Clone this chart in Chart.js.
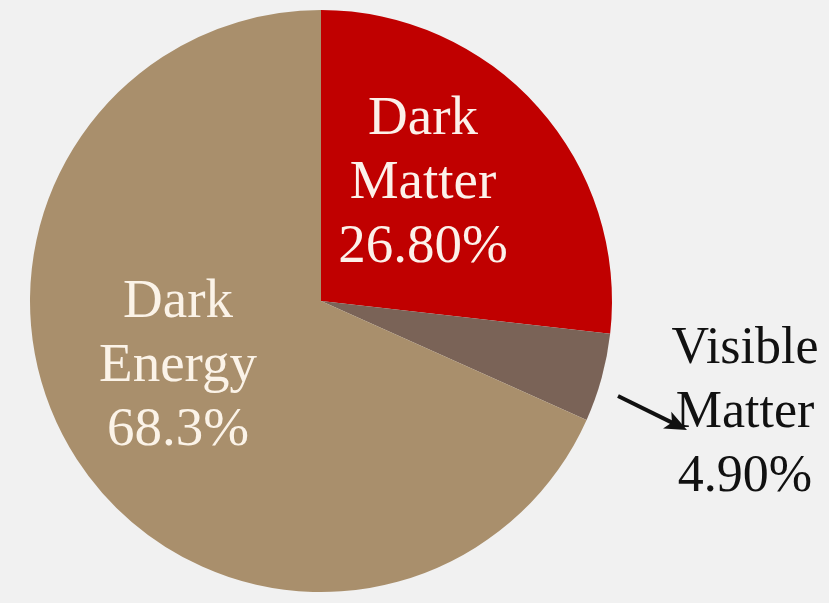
<!DOCTYPE html>
<html>
<head>
<meta charset="utf-8">
<script src="https://cdn.jsdelivr.net/npm/chart.js@4.4.1/dist/chart.umd.min.js"></script>
<style>
  html, body { margin: 0; padding: 0; background: #f1f1f1; }
  #wrap { width: 829px; height: 603px; position: relative; }
</style>
</head>
<body>
<div id="wrap"><canvas id="universeChart" width="829" height="603"></canvas></div>
<script>
// Composition of the universe
const SLICE_NAMES = ["Dark Matter", "Visible Matter", "Dark Energy"];
const SLICE_VALUES = [26.8, 4.9, 68.3];
const SLICE_LABELS = [
  ["Dark", "Matter", "26.80%"],
  ["Visible", "Matter", "4.90%"],
  ["Dark", "Energy", "68.3%"]
];

const SLICE_COLORS = ["#c00000", "#7a6357", "#a98f6c"];

// where each label block sits, relative to the pie centre (first baseline)
const LABEL_STYLE = [
  { dx: 102, dy: -167, size: 55, color: "#fcf1ea" },
  { dx: 424, dy: 62, size: 52, color: "#111111" },
  { dx: -143, dy: 16, size: 55, color: "#fbf3e8" }
];

/**
 * Draw the multi-line slice labels and the pointer arrow for the small slice.
 */
const sliceLabelPlugin = {
  id: "sliceLabels",
  afterDatasetsDraw(chart) {
    const ctx = chart.ctx;
    const arcs = chart.getDatasetMeta(0).data;
    const cx = arcs[0].x;
    const cy = arcs[0].y;
    const lineHeight = 64;

    ctx.save();
    ctx.textAlign = "center";
    ctx.textBaseline = "alphabetic";

    SLICE_LABELS.forEach((lines, i) => {
      const style = LABEL_STYLE[i];
      ctx.font = style.size + "px 'Liberation Serif', 'Times New Roman', serif";
      ctx.fillStyle = style.color;
      lines.forEach((line, j) => {
        ctx.fillText(line, cx + style.dx, cy + style.dy + j * lineHeight);
      });
    });

    // arrow pointing from the pie edge to the outside label
    const x0 = cx + 297, y0 = cy + 95;
    const x1 = cx + 366, y1 = cy + 129;
    const ang = Math.atan2(y1 - y0, x1 - x0);
    const head = 24;

    ctx.strokeStyle = "#111111";
    ctx.fillStyle = "#111111";
    ctx.lineWidth = 4;
    ctx.beginPath();
    ctx.moveTo(x0, y0);
    ctx.lineTo(x1 - head * 0.6 * Math.cos(ang), y1 - head * 0.6 * Math.sin(ang));
    ctx.stroke();

    ctx.beginPath();
    ctx.moveTo(x1, y1);
    ctx.lineTo(x1 - head * Math.cos(ang - 0.4), y1 - head * Math.sin(ang - 0.4));
    ctx.lineTo(x1 - head * 0.7 * Math.cos(ang), y1 - head * 0.7 * Math.sin(ang));
    ctx.lineTo(x1 - head * Math.cos(ang + 0.4), y1 - head * Math.sin(ang + 0.4));
    ctx.closePath();
    ctx.fill();
    ctx.restore();
  }
};

const CTX = document.getElementById("universeChart").getContext("2d");

new Chart(CTX, {
  type: "pie",
  data: {
    labels: SLICE_NAMES,
    datasets: [{
      data: SLICE_VALUES,
      backgroundColor: SLICE_COLORS,
      borderWidth: 0
    }]
  },
  options: {
    responsive: false,
    animation: false,
    layout: {
      padding: { left: 30, right: 217, top: 10, bottom: 11 }
    },
    plugins: {
      legend: { display: false },
      tooltip: { enabled: false }
    }
  },
  plugins: [sliceLabelPlugin]
});
</script>
</body>
</html>
